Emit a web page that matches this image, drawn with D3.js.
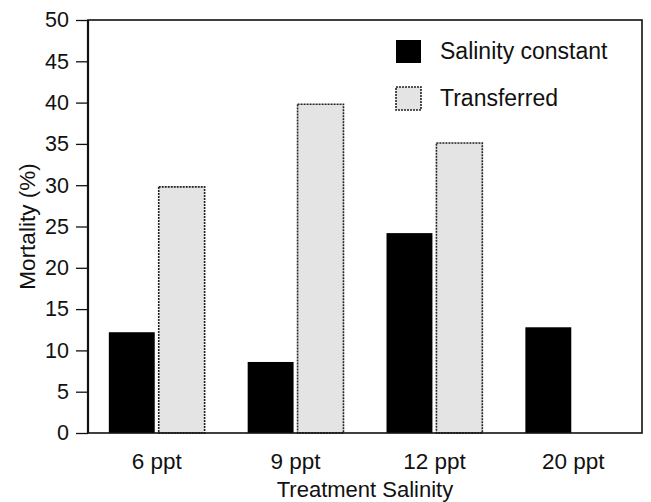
<!DOCTYPE html>
<html>
<head>
<meta charset="utf-8">
<script src="https://cdn.jsdelivr.net/npm/d3@7"></script>
<style>
  html, body { margin: 0; padding: 0; background: #fff; }
  text { font-family: "Liberation Sans", Arial, Helvetica, sans-serif; fill: #111; }
</style>
</head>
<body>
<svg id="chart" width="651" height="502"></svg>
<script>
const categories = ["6 ppt", "9 ppt", "12 ppt", "20 ppt"];
const seriesNames = ["Salinity constant", "Transferred"];
const salinityConstant = [12.2, 8.6, 24.2, 12.8];
const transferred = [29.8, 39.8, 35.1, null];
const yTicks = [0, 5, 10, 15, 20, 25, 30, 35, 40, 45, 50];
const xTitle = "Treatment Salinity";
const yTitle = "Mortality (%)";

const seriesValues = [salinityConstant, transferred];
const fills = ["#000000", "#e4e4e4"];

const svg = d3.select("#chart");
const L = 88, R = 642, T = 20, B = 433;

const x = d3.scaleBand().domain(categories).range([L, R])
  .paddingInner(0.31).paddingOuter(0.15);
const xs = d3.scaleBand().domain(seriesNames).range([0, x.bandwidth()]).paddingInner(0.08);
const y = d3.scaleLinear().domain([0, 50]).range([B, T]);

// y axis
const yAxis = svg.append("g").attr("transform", `translate(${L},0)`)
  .call(d3.axisLeft(y).tickValues(yTicks).tickSize(12).tickPadding(7).tickFormat(d3.format("d")));
yAxis.select(".domain").remove();
yAxis.selectAll(".tick line").attr("stroke", "#111").attr("stroke-width", 1.3);
yAxis.selectAll(".tick text").style("font-size", "21.5px").attr("fill", "#111");

// x axis labels
const xAxis = svg.append("g").attr("transform", `translate(0,${B})`)
  .call(d3.axisBottom(x).tickSize(0).tickPadding(20));
xAxis.select(".domain").remove();
xAxis.selectAll(".tick text").style("font-size", "22.5px").attr("fill", "#111");

// bars
const groups = svg.append("g").selectAll("g").data(categories).join("g")
  .attr("transform", d => `translate(${x(d)},0)`);
groups.selectAll("rect")
  .data((c, i) => seriesNames.map((s, j) => ({ s, j, v: seriesValues[j][i] })).filter(d => d.v != null))
  .join("rect")
  .attr("x", d => xs(d.s))
  .attr("width", xs.bandwidth())
  .attr("y", d => y(d.v))
  .attr("height", d => B - y(d.v))
  .attr("fill", d => fills[d.j])
  .attr("stroke", d => d.j === 0 ? "none" : "#222")
  .attr("stroke-width", 1.6)
  .attr("stroke-dasharray", d => d.j === 0 ? null : "2,1");

// frame
svg.append("rect").attr("x", L).attr("y", T).attr("width", R - L).attr("height", B - T)
  .attr("fill", "none").attr("stroke", "#111").attr("stroke-width", 1.6);
svg.append("line").attr("x1", L).attr("x2", L).attr("y1", T).attr("y2", B)
  .attr("stroke", "#111").attr("stroke-width", 2.2);

// legend
const legend = svg.append("g").attr("transform", "translate(396,40)");
seriesNames.forEach((s, j) => {
  const g = legend.append("g").attr("transform", `translate(0,${j * 47})`);
  g.append("rect").attr("width", 25).attr("height", 23)
    .attr("fill", fills[j])
    .attr("stroke", j === 0 ? "none" : "#222").attr("stroke-width", 1.6)
    .attr("stroke-dasharray", j === 0 ? null : "2,1");
  g.append("text").attr("x", 44).attr("y", 18.5).style("font-size", "23px").text(s);
});

// axis titles
svg.append("text").attr("x", (L + R) / 2).attr("y", 497).attr("text-anchor", "middle")
  .style("font-size", "22px").text(xTitle);
svg.append("text").attr("transform", `translate(35,${(T + B) / 2}) rotate(-90)`)
  .attr("text-anchor", "middle").style("font-size", "22.5px").text(yTitle);
</script>
</body>
</html>
